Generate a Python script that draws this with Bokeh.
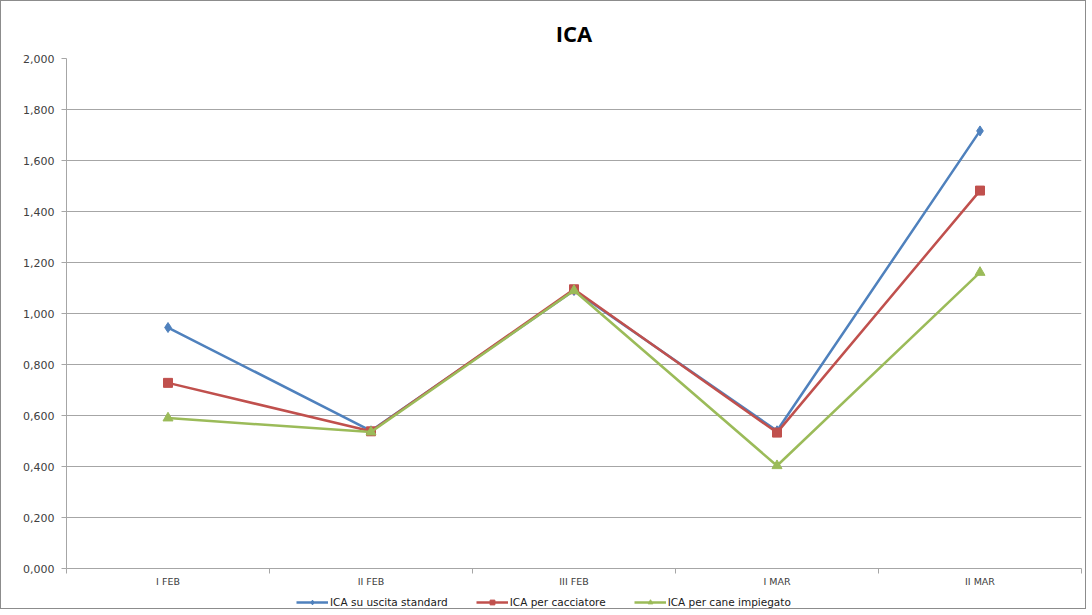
from bokeh.plotting import figure
from bokeh.layouts import column
from bokeh.embed import file_html
from bokeh.resources import INLINE
from bokeh.models import (FixedTicker, CustomJSTickFormatter, Range1d, Legend,
                          LegendItem, ColumnDataSource)

categories = ["I FEB", "II FEB", "III FEB", "I MAR", "II MAR"]
ica_uscita = [0.945, 0.540, 1.090, 0.540, 1.716]
ica_cacciatore = [0.728, 0.538, 1.095, 0.533, 1.482]
ica_cane = [0.590, 0.535, 1.090, 0.403, 1.161]
y_ticks = [0.0, 0.2, 0.4, 0.6, 0.8, 1.0, 1.2, 1.4, 1.6, 1.8, 2.0]
series_names = ["ICA su uscita standard", "ICA per cacciatore", "ICA per cane impiegato"]

x_pos = [i + 0.5 for i in range(len(categories))]

FONT = "DejaVu Sans"
GRID = "#a6a6a6"
colors = ["#4F81BD", "#C0504D", "#9BBB59"]
markers = ["diamond", "square", "triangle"]
sizes = [10, 9, 10]

p = figure(width=1084, height=591, output_backend="svg", toolbar_location=None,
           x_range=Range1d(0, len(categories)), y_range=Range1d(0, 2.0),
           min_border_left=65, min_border_right=4, min_border_top=57,
           min_border_bottom=24)

p.title.text = "ICA"
p.title.align = "center"
p.title.text_font = "Open Sans"
p.title.text_font_size = "22px"
p.title.text_font_style = "bold"
p.title.text_color = "#000000"
p.title.standoff = 22

p.outline_line_color = None
p.xgrid.grid_line_color = None
p.ygrid.grid_line_color = GRID
p.ygrid.grid_line_width = 1

# y axis
p.yaxis.ticker = FixedTicker(ticks=y_ticks)
p.yaxis.formatter = CustomJSTickFormatter(code="return tick.toFixed(3).replace('.', ',');")
p.yaxis.axis_line_color = GRID
p.yaxis.major_tick_line_color = GRID
p.yaxis.major_tick_out = 5
p.yaxis.major_tick_in = 0
p.yaxis.minor_tick_line_color = None
p.yaxis.major_label_text_font = FONT
p.yaxis.major_label_text_font_size = "11px"
p.yaxis.major_label_text_color = "#404040"
p.yaxis.major_label_standoff = 7

# x axis
p.xaxis.ticker = FixedTicker(ticks=x_pos, minor_ticks=list(range(len(categories) + 1)))
p.xaxis.major_label_overrides = {x: c for x, c in zip(x_pos, categories)}
p.xaxis.axis_line_color = GRID
p.xaxis.major_tick_line_color = None
p.xaxis.minor_tick_line_color = GRID
p.xaxis.minor_tick_out = 5
p.xaxis.minor_tick_in = 0
p.xaxis.major_label_text_font = FONT
p.xaxis.major_label_text_font_size = "9.5px"
p.xaxis.major_label_text_color = "#404040"
p.xaxis.major_label_standoff = 1

sources = []
for vals, col, mk, sz in zip([ica_uscita, ica_cacciatore, ica_cane], colors, markers, sizes):
    src = ColumnDataSource(dict(x=x_pos, y=vals))
    sources.append(src)
    p.line("x", "y", source=src, line_color=col, line_width=2.5)
    p.scatter("x", "y", source=src, marker=mk, size=sz, fill_color=col, line_color=col)

# legend strip below the chart (renderers hidden, used only for legend glyphs)
lf = figure(width=1084, height=16, output_backend="svg", toolbar_location=None,
            x_range=Range1d(0, 1), y_range=Range1d(0, 1),
            x_axis_type=None, y_axis_type=None, min_border=0)
lf.outline_line_color = None
lf.grid.visible = False
items = []
for name, src, col, mk, sz in zip(series_names, sources, colors, markers, sizes):
    ln = lf.line("x", "y", source=src, line_color=col, line_width=2.5, visible=False)
    sc = lf.scatter("x", "y", source=src, marker=mk, size=sz - 2,
                    fill_color=col, line_color=col, visible=False)
    items.append(LegendItem(label=name, renderers=[ln, sc]))

legend = Legend(items=items, orientation="horizontal", location=(230, 0),
                label_text_font=FONT, label_text_font_size="10.5px",
                label_text_color="#202020", border_line_color=None,
                background_fill_alpha=0, glyph_width=32, glyph_height=12,
                spacing=28, padding=2, margin=0, label_standoff=2,
                label_height=12, inactive_fill_alpha=0)
lf.add_layout(legend, "center")

layout = column(p, lf, spacing=0)
layout.styles = {"border": "1px solid #8c8c8c", "box-sizing": "border-box"}

open("out.html", "w").write(file_html(layout, INLINE))
